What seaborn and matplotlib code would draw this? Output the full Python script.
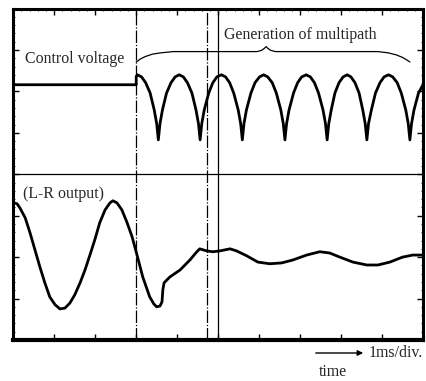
import matplotlib
matplotlib.use("Agg")
import matplotlib.pyplot as plt
import seaborn as sns
import pandas as pd
from matplotlib.ticker import MultipleLocator

# Graticule: 10 x 8 divisions, 1 ms per horizontal division
n_xdiv = 10
n_ydiv = 8

# Upper trace: control voltage step, then the multipath detector output
ctrl_x = [0.00, 3.00, 3.00, 3.03, 3.13, 3.23, 3.34, 3.44, 3.50,
          3.54, 3.58, 3.64, 3.74, 3.85, 3.95, 4.05, 4.15, 4.25, 4.36, 4.46, 4.52,
          4.56, 4.60, 4.66, 4.77, 4.87, 4.97, 5.08, 5.18, 5.28, 5.38, 5.49, 5.55,
          5.59, 5.63, 5.69, 5.80, 5.90, 6.01, 6.11, 6.21, 6.32, 6.42, 6.53, 6.59,
          6.63, 6.67, 6.73, 6.84, 6.94, 7.04, 7.15, 7.25, 7.35, 7.45, 7.56, 7.62,
          7.66, 7.70, 7.76, 7.85, 7.95, 8.05, 8.15, 8.24, 8.34, 8.44, 8.53, 8.59,
          8.63, 8.67, 8.74, 8.84, 8.95, 9.05, 9.16, 9.26, 9.37, 9.47, 9.58, 9.64,
          9.68, 9.72, 9.78, 9.89, 10.00]
ctrl_y = [6.16, 6.16, 6.36, 6.40, 6.35, 6.21, 5.96, 5.55, 5.22,
          4.83, 5.22, 5.55, 5.96, 6.21, 6.35, 6.40, 6.35, 6.21, 5.96, 5.55, 5.22,
          4.83, 5.22, 5.55, 5.96, 6.21, 6.35, 6.40, 6.35, 6.21, 5.96, 5.55, 5.22,
          4.83, 5.22, 5.55, 5.96, 6.21, 6.35, 6.40, 6.35, 6.21, 5.96, 5.55, 5.22,
          4.83, 5.22, 5.55, 5.96, 6.21, 6.35, 6.40, 6.35, 6.21, 5.96, 5.55, 5.22,
          4.83, 5.22, 5.55, 5.96, 6.21, 6.35, 6.40, 6.35, 6.21, 5.96, 5.55, 5.22,
          4.83, 5.22, 5.55, 5.96, 6.21, 6.35, 6.40, 6.35, 6.21, 5.96, 5.55, 5.22,
          4.83, 5.22, 5.55, 5.96, 6.16]

# Lower trace: L-R output
lr_x = [0.00, 0.09, 0.16, 0.29, 0.41, 0.53, 0.65, 0.77, 0.89, 1.02, 1.14, 1.26,
        1.38, 1.50, 1.63, 1.75, 1.87, 1.99, 2.11, 2.24, 2.36, 2.43, 2.53, 2.65,
        2.77, 2.90, 3.02, 3.16, 3.33, 3.43, 3.50, 3.58, 3.63, 3.65, 3.68, 3.75,
        3.82, 4.07, 4.31, 4.48, 4.55, 4.72, 4.87, 5.04, 5.29, 5.45, 5.70, 5.97,
        6.26, 6.55, 6.82, 7.16, 7.48, 7.72, 7.97, 8.29, 8.63, 8.90, 9.19, 9.50,
        9.75, 10.00]
lr_y = [3.31, 3.29, 3.19, 2.95, 2.58, 2.17, 1.76, 1.38, 1.04, 0.85, 0.75, 0.77,
        0.89, 1.09, 1.38, 1.69, 2.05, 2.42, 2.83, 3.14, 3.31, 3.36, 3.31, 3.14,
        2.85, 2.49, 2.05, 1.52, 1.04, 0.87, 0.80, 0.82, 0.92, 1.21, 1.38, 1.45,
        1.52, 1.69, 1.93, 2.13, 2.20, 2.15, 2.13, 2.15, 2.20, 2.15, 2.03, 1.88,
        1.84, 1.86, 1.93, 2.05, 2.13, 2.10, 2.00, 1.88, 1.81, 1.81, 1.88, 2.00,
        2.05, 2.05]

# Brace spanning the multipath interval
brace_x = [3.00, 3.10, 3.22, 3.40, 3.60, 3.90, 5.95, 6.06, 6.13, 6.17, 6.21,
           6.28, 6.40, 8.90, 9.15, 9.35, 9.50, 9.60, 9.68]
brace_y = [6.71, 6.78, 6.84, 6.90, 6.93, 6.96, 6.96, 6.99, 7.04, 7.08, 7.04,
           6.99, 6.96, 6.96, 6.93, 6.88, 6.82, 6.76, 6.71]

# Markers for the switching instants
event_x = [3.00, 4.72]

sns.set_theme(style="ticks")
plt.rcParams["font.family"] = ["Liberation Serif", "DejaVu Serif"]

W, H = 426, 381
fig = plt.figure(figsize=(W / 100, H / 100), dpi=100)
ax = fig.add_axes([13.3 / W, 1 - 340 / H, 409.7 / W, 331.5 / H])

ctrl_df = pd.DataFrame({"t": ctrl_x, "v": ctrl_y})
lr_df = pd.DataFrame({"t": lr_x, "v": lr_y})
brace_df = pd.DataFrame({"t": brace_x, "v": brace_y})

# Centre graticule lines
ax.axhline(n_ydiv / 2, color="black", lw=0.9, zorder=1)
ax.axvline(n_xdiv / 2, color="black", lw=0.9, zorder=1)
for xv in event_x:
    ax.axvline(xv, color="black", lw=0.9, ls=(0, (10, 1.5, 1, 1.5)), zorder=1)

sns.lineplot(data=ctrl_df, x="t", y="v", ax=ax, sort=False, estimator=None,
             color="black", lw=2.0, solid_joinstyle="round", zorder=3)
sns.lineplot(data=lr_df, x="t", y="v", ax=ax, sort=False, estimator=None,
             color="black", lw=2.0, solid_joinstyle="round", zorder=3)
sns.lineplot(data=brace_df, x="t", y="v", ax=ax, sort=False, estimator=None,
             color="black", lw=0.9, zorder=3)

ax.set_xlim(0, n_xdiv)
ax.set_ylim(0, n_ydiv)
ax.xaxis.set_major_locator(MultipleLocator(1))
ax.yaxis.set_major_locator(MultipleLocator(1))
ax.xaxis.set_minor_locator(MultipleLocator(0.2))
ax.yaxis.set_minor_locator(MultipleLocator(0.2))
ax.tick_params(which="major", direction="in", length=4, width=1.0,
               top=True, right=True, bottom=True, left=True,
               labelbottom=False, labelleft=False, color="black")
ax.tick_params(which="minor", direction="in", length=1.2, width=0.6,
               top=True, right=True, bottom=True, left=True, color="black")
ax.set_xlabel("")
ax.set_ylabel("")
for side in ["top", "left", "right"]:
    ax.spines[side].set_linewidth(2.2)
    ax.spines[side].set_color("black")
ax.spines["bottom"].set_linewidth(3.0)
ax.spines["bottom"].set_color("black")

fs = 11.4
ax.text(0.285, 6.69, "Control voltage", fontsize=fs, ha="left", va="baseline")
ax.text(5.14, 7.27, "Generation of multipath", fontsize=fs, ha="left", va="baseline")
ax.text(0.24, 3.43, "(L-R output)", fontsize=fs, ha="left", va="baseline")

# Time-base annotation below the graticule
fig.add_artist(matplotlib.patches.FancyArrowPatch(
    (313 / W, 1 - 353 / H), (366 / W, 1 - 353 / H),
    transform=fig.transFigure, arrowstyle="-|>", mutation_scale=8,
    lw=1.0, color="black"))
fig.text(369 / W, 1 - 357 / H, "1ms/div.", fontsize=fs, ha="left", va="baseline")
fig.text(333 / W, 1 - 376 / H, "time", fontsize=fs, ha="center", va="baseline")

fig.savefig("out.png", dpi=100, facecolor="white")
